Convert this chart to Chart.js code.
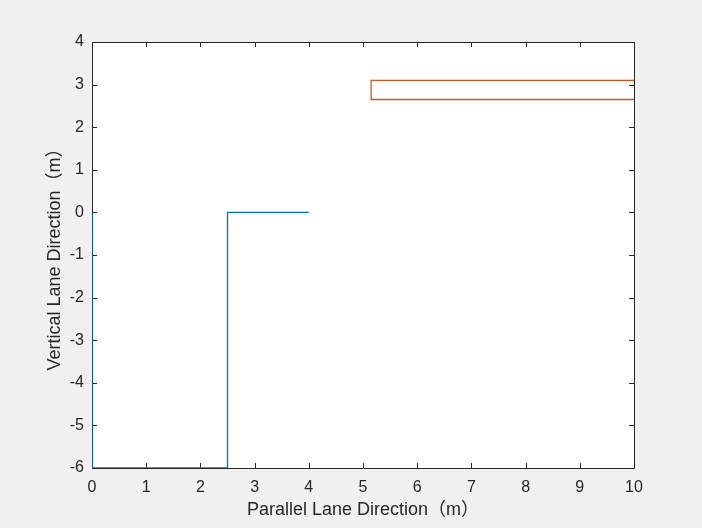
<!DOCTYPE html>
<html>
<head>
<meta charset="utf-8">
<script src="https://cdn.jsdelivr.net/npm/chart.js@4.4.1/dist/chart.umd.min.js"></script>
<style>
html,body{margin:0;padding:0;background:#f0f0f0;}
#wrap{width:702px;height:528px;}
</style>
</head>
<body>
<div id="wrap"><canvas id="c" width="702" height="528"></canvas></div>
<script>
const blueX = [0, 0, 2.5, 2.5, 4];
const blueY = [0, -6, -6, 0, 0];
const orangeX = [10, 5.15, 5.15, 10];
const orangeY = [3.1, 3.1, 2.65, 2.65];
const xTicks = [0,1,2,3,4,5,6,7,8,9,10];
const yTicks = [-6,-5,-4,-3,-2,-1,0,1,2,3,4];
const xTitle = 'Parallel Lane Direction（m）';
const yTitle = 'Vertical Lane Direction（m）';

const pts = (xs, ys) => xs.map((x, i) => ({x: x, y: ys[i]}));

const boxPlugin = {
  id: 'box',
  beforeDraw(chart) {
    const a = chart.chartArea, ctx = chart.ctx;
    ctx.save();
    ctx.fillStyle = '#ffffff';
    ctx.fillRect(a.left, a.top, a.right - a.left, a.bottom - a.top);
    ctx.restore();
  },
  beforeDatasetsDraw(chart) {
    const a = chart.chartArea, ctx = chart.ctx;
    const xs = chart.scales.x, ys = chart.scales.y;
    ctx.save();
    ctx.strokeStyle = '#262626';
    ctx.lineWidth = 1;
    ctx.beginPath();
    ctx.rect(Math.round(a.left) + 0.5, Math.round(a.top) + 0.5, Math.round(a.right - a.left), Math.round(a.bottom - a.top));
    const L = 5;
    xTicks.forEach(v => {
      const p = Math.round(xs.getPixelForValue(v)) + 0.5;
      ctx.moveTo(p, a.bottom); ctx.lineTo(p, a.bottom - L);
      ctx.moveTo(p, a.top); ctx.lineTo(p, a.top + L);
    });
    yTicks.forEach(v => {
      const p = Math.round(ys.getPixelForValue(v)) + 0.5;
      ctx.moveTo(a.left, p); ctx.lineTo(a.left + L, p);
      ctx.moveTo(a.right, p); ctx.lineTo(a.right - L, p);
    });
    ctx.stroke();
    ctx.restore();
  }
};

const FONT = 'Liberation Sans, Arial, "Noto Sans CJK SC", sans-serif';

new Chart(document.getElementById('c'), {
  type: 'scatter',
  data: {
    datasets: [
      {data: pts(blueX, blueY), showLine: true, borderColor: '#0072BD', borderWidth: 1.3, pointRadius: 0, fill: false, tension: 0},
      {data: pts(orangeX, orangeY), showLine: true, borderColor: '#D95319', borderWidth: 1.3, pointRadius: 0, fill: false, tension: 0}
    ]
  },
  options: {
    responsive: false,
    animation: false,
    events: [],
    layout: {padding: {top: 42, right: 68, left: 0, bottom: 0}},
    plugins: {legend: {display: false}, tooltip: {enabled: false}},
    scales: {
      x: {
        type: 'linear', min: 0, max: 10,
        afterFit(s) { s.height = 60; },
        afterBuildTicks(s) { s.ticks = xTicks.map(v => ({value: v})); },
        grid: {display: false, drawTicks: false},
        border: {display: false},
        ticks: {color: '#262626', padding: 10, font: {family: FONT, size: 16}, maxRotation: 0},
        title: {display: true, text: xTitle, color: '#262626', font: {family: FONT, size: 18}, padding: {top: 0, bottom: 7}}
      },
      y: {
        type: 'linear', min: -6, max: 4,
        afterFit(s) { s.width = 92; },
        afterBuildTicks(s) { s.ticks = yTicks.map(v => ({value: v})); },
        grid: {display: false, drawTicks: false},
        border: {display: false},
        ticks: {color: '#262626', padding: 8, font: {family: FONT, size: 16}},
        title: {display: true, text: yTitle, color: '#262626', font: {family: FONT, size: 18}, padding: {top: 44, bottom: 0}}
      }
    }
  },
  plugins: [boxPlugin]
});
</script>
</body>
</html>
